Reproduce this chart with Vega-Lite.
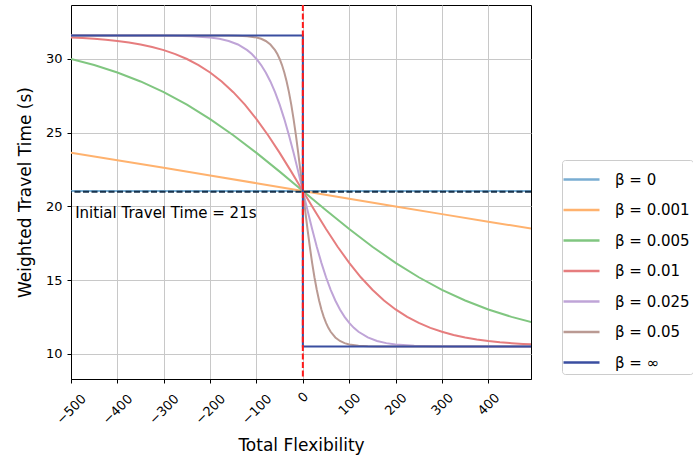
{
  "$schema": "https://vega.github.io/schema/vega-lite/v6.json",
  "width": 460,
  "height": 374,
  "autosize": {"type": "none"},
  "padding": {"left": 71, "top": 5, "right": 162, "bottom": 80},
  "background": "white",
  "config": {
    "font": "DejaVu Sans",
    "view": {"stroke": "#000000", "strokeWidth": 1},
    "axis": {
      "domainColor": "#000000",
      "tickColor": "#000000",
      "tickSize": 4,
      "labelColor": "#000000",
      "titleColor": "#000000",
      "labelFont": "DejaVu Sans",
      "titleFont": "DejaVu Sans",
      "labelFontSize": 13,
      "titleFontSize": 17,
      "titleFontWeight": "normal",
      "gridColor": "#c8c8c8",
      "gridWidth": 1
    }
  },
  "datasets": {
    "curves": [
      {"b": "β = 0", "x": -500, "y": 21.05},
      {"b": "β = 0", "x": 495, "y": 21.05},

      {"b": "β = 0.001", "x": -500, "y": 23.635},
      {"b": "β = 0.001", "x": -400, "y": 23.132},
      {"b": "β = 0.001", "x": -300, "y": 22.62},
      {"b": "β = 0.001", "x": -200, "y": 22.101},
      {"b": "β = 0.001", "x": -100, "y": 21.577},
      {"b": "β = 0.001", "x": 0, "y": 21.05},
      {"b": "β = 0.001", "x": 100, "y": 20.523},
      {"b": "β = 0.001", "x": 200, "y": 19.999},
      {"b": "β = 0.001", "x": 300, "y": 19.48},
      {"b": "β = 0.001", "x": 400, "y": 18.967},
      {"b": "β = 0.001", "x": 495, "y": 18.491},

      {"b": "β = 0.005", "x": -500, "y": 29.999},
      {"b": "β = 0.005", "x": -450, "y": 29.588},
      {"b": "β = 0.005", "x": -400, "y": 29.085},
      {"b": "β = 0.005", "x": -350, "y": 28.476},
      {"b": "β = 0.005", "x": -300, "y": 27.751},
      {"b": "β = 0.005", "x": -250, "y": 26.901},
      {"b": "β = 0.005", "x": -200, "y": 25.925},
      {"b": "β = 0.005", "x": -150, "y": 24.831},
      {"b": "β = 0.005", "x": -100, "y": 23.634},
      {"b": "β = 0.005", "x": -50, "y": 22.362},
      {"b": "β = 0.005", "x": 0, "y": 21.05},
      {"b": "β = 0.005", "x": 50, "y": 19.738},
      {"b": "β = 0.005", "x": 100, "y": 18.466},
      {"b": "β = 0.005", "x": 150, "y": 17.269},
      {"b": "β = 0.005", "x": 200, "y": 16.175},
      {"b": "β = 0.005", "x": 250, "y": 15.199},
      {"b": "β = 0.005", "x": 300, "y": 14.349},
      {"b": "β = 0.005", "x": 350, "y": 13.624},
      {"b": "β = 0.005", "x": 400, "y": 13.015},
      {"b": "β = 0.005", "x": 450, "y": 12.512},
      {"b": "β = 0.005", "x": 495, "y": 12.138},

      {"b": "β = 0.01", "x": -500, "y": 31.459},
      {"b": "β = 0.01", "x": -475, "y": 31.419},
      {"b": "β = 0.01", "x": -450, "y": 31.368},
      {"b": "β = 0.01", "x": -425, "y": 31.303},
      {"b": "β = 0.01", "x": -400, "y": 31.22},
      {"b": "β = 0.01", "x": -375, "y": 31.115},
      {"b": "β = 0.01", "x": -350, "y": 30.982},
      {"b": "β = 0.01", "x": -325, "y": 30.812},
      {"b": "β = 0.01", "x": -300, "y": 30.599},
      {"b": "β = 0.01", "x": -275, "y": 30.332},
      {"b": "β = 0.01", "x": -250, "y": 29.999},
      {"b": "β = 0.01", "x": -225, "y": 29.588},
      {"b": "β = 0.01", "x": -200, "y": 29.085},
      {"b": "β = 0.01", "x": -175, "y": 28.476},
      {"b": "β = 0.01", "x": -150, "y": 27.751},
      {"b": "β = 0.01", "x": -125, "y": 26.901},
      {"b": "β = 0.01", "x": -100, "y": 25.925},
      {"b": "β = 0.01", "x": -75, "y": 24.831},
      {"b": "β = 0.01", "x": -50, "y": 23.634},
      {"b": "β = 0.01", "x": -25, "y": 22.362},
      {"b": "β = 0.01", "x": 0, "y": 21.05},
      {"b": "β = 0.01", "x": 25, "y": 19.738},
      {"b": "β = 0.01", "x": 50, "y": 18.466},
      {"b": "β = 0.01", "x": 75, "y": 17.269},
      {"b": "β = 0.01", "x": 100, "y": 16.175},
      {"b": "β = 0.01", "x": 125, "y": 15.199},
      {"b": "β = 0.01", "x": 150, "y": 14.349},
      {"b": "β = 0.01", "x": 175, "y": 13.624},
      {"b": "β = 0.01", "x": 200, "y": 13.015},
      {"b": "β = 0.01", "x": 225, "y": 12.512},
      {"b": "β = 0.01", "x": 250, "y": 12.101},
      {"b": "β = 0.01", "x": 275, "y": 11.768},
      {"b": "β = 0.01", "x": 300, "y": 11.501},
      {"b": "β = 0.01", "x": 325, "y": 11.288},
      {"b": "β = 0.01", "x": 350, "y": 11.118},
      {"b": "β = 0.01", "x": 375, "y": 10.985},
      {"b": "β = 0.01", "x": 400, "y": 10.88},
      {"b": "β = 0.01", "x": 425, "y": 10.797},
      {"b": "β = 0.01", "x": 450, "y": 10.732},
      {"b": "β = 0.01", "x": 475, "y": 10.681},
      {"b": "β = 0.01", "x": 495, "y": 10.648},

      {"b": "β = 0.025", "x": -500, "y": 31.6},
      {"b": "β = 0.025", "x": -400, "y": 31.599},
      {"b": "β = 0.025", "x": -320, "y": 31.593},
      {"b": "β = 0.025", "x": -280, "y": 31.581},
      {"b": "β = 0.025", "x": -240, "y": 31.548},
      {"b": "β = 0.025", "x": -200, "y": 31.459},
      {"b": "β = 0.025", "x": -180, "y": 31.368},
      {"b": "β = 0.025", "x": -160, "y": 31.22},
      {"b": "β = 0.025", "x": -140, "y": 30.982},
      {"b": "β = 0.025", "x": -120, "y": 30.599},
      {"b": "β = 0.025", "x": -110, "y": 30.332},
      {"b": "β = 0.025", "x": -100, "y": 29.999},
      {"b": "β = 0.025", "x": -90, "y": 29.588},
      {"b": "β = 0.025", "x": -80, "y": 29.085},
      {"b": "β = 0.025", "x": -70, "y": 28.476},
      {"b": "β = 0.025", "x": -60, "y": 27.751},
      {"b": "β = 0.025", "x": -50, "y": 26.901},
      {"b": "β = 0.025", "x": -40, "y": 25.925},
      {"b": "β = 0.025", "x": -30, "y": 24.831},
      {"b": "β = 0.025", "x": -20, "y": 23.634},
      {"b": "β = 0.025", "x": -10, "y": 22.362},
      {"b": "β = 0.025", "x": 0, "y": 21.05},
      {"b": "β = 0.025", "x": 10, "y": 19.738},
      {"b": "β = 0.025", "x": 20, "y": 18.466},
      {"b": "β = 0.025", "x": 30, "y": 17.269},
      {"b": "β = 0.025", "x": 40, "y": 16.175},
      {"b": "β = 0.025", "x": 50, "y": 15.199},
      {"b": "β = 0.025", "x": 60, "y": 14.349},
      {"b": "β = 0.025", "x": 70, "y": 13.624},
      {"b": "β = 0.025", "x": 80, "y": 13.015},
      {"b": "β = 0.025", "x": 90, "y": 12.512},
      {"b": "β = 0.025", "x": 100, "y": 12.101},
      {"b": "β = 0.025", "x": 110, "y": 11.768},
      {"b": "β = 0.025", "x": 120, "y": 11.501},
      {"b": "β = 0.025", "x": 140, "y": 11.118},
      {"b": "β = 0.025", "x": 160, "y": 10.88},
      {"b": "β = 0.025", "x": 180, "y": 10.732},
      {"b": "β = 0.025", "x": 200, "y": 10.641},
      {"b": "β = 0.025", "x": 240, "y": 10.552},
      {"b": "β = 0.025", "x": 280, "y": 10.519},
      {"b": "β = 0.025", "x": 320, "y": 10.507},
      {"b": "β = 0.025", "x": 400, "y": 10.501},
      {"b": "β = 0.025", "x": 495, "y": 10.5},

      {"b": "β = 0.05", "x": -500, "y": 31.6},
      {"b": "β = 0.05", "x": -200, "y": 31.599},
      {"b": "β = 0.05", "x": -160, "y": 31.593},
      {"b": "β = 0.05", "x": -140, "y": 31.581},
      {"b": "β = 0.05", "x": -120, "y": 31.548},
      {"b": "β = 0.05", "x": -100, "y": 31.459},
      {"b": "β = 0.05", "x": -90, "y": 31.368},
      {"b": "β = 0.05", "x": -80, "y": 31.22},
      {"b": "β = 0.05", "x": -70, "y": 30.982},
      {"b": "β = 0.05", "x": -60, "y": 30.599},
      {"b": "β = 0.05", "x": -55, "y": 30.332},
      {"b": "β = 0.05", "x": -50, "y": 29.999},
      {"b": "β = 0.05", "x": -45, "y": 29.588},
      {"b": "β = 0.05", "x": -40, "y": 29.085},
      {"b": "β = 0.05", "x": -35, "y": 28.476},
      {"b": "β = 0.05", "x": -30, "y": 27.751},
      {"b": "β = 0.05", "x": -25, "y": 26.901},
      {"b": "β = 0.05", "x": -20, "y": 25.925},
      {"b": "β = 0.05", "x": -15, "y": 24.831},
      {"b": "β = 0.05", "x": -10, "y": 23.634},
      {"b": "β = 0.05", "x": -5, "y": 22.362},
      {"b": "β = 0.05", "x": 0, "y": 21.05},
      {"b": "β = 0.05", "x": 5, "y": 19.738},
      {"b": "β = 0.05", "x": 10, "y": 18.466},
      {"b": "β = 0.05", "x": 15, "y": 17.269},
      {"b": "β = 0.05", "x": 20, "y": 16.175},
      {"b": "β = 0.05", "x": 25, "y": 15.199},
      {"b": "β = 0.05", "x": 30, "y": 14.349},
      {"b": "β = 0.05", "x": 35, "y": 13.624},
      {"b": "β = 0.05", "x": 40, "y": 13.015},
      {"b": "β = 0.05", "x": 45, "y": 12.512},
      {"b": "β = 0.05", "x": 50, "y": 12.101},
      {"b": "β = 0.05", "x": 55, "y": 11.768},
      {"b": "β = 0.05", "x": 60, "y": 11.501},
      {"b": "β = 0.05", "x": 70, "y": 11.118},
      {"b": "β = 0.05", "x": 80, "y": 10.88},
      {"b": "β = 0.05", "x": 90, "y": 10.732},
      {"b": "β = 0.05", "x": 100, "y": 10.641},
      {"b": "β = 0.05", "x": 120, "y": 10.552},
      {"b": "β = 0.05", "x": 140, "y": 10.519},
      {"b": "β = 0.05", "x": 160, "y": 10.507},
      {"b": "β = 0.05", "x": 200, "y": 10.501},
      {"b": "β = 0.05", "x": 495, "y": 10.5},

      {"b": "β = ∞", "x": -500, "y": 31.6},
      {"b": "β = ∞", "x": 0, "y": 31.6},
      {"b": "β = ∞", "x": 0, "y": 10.5},
      {"b": "β = ∞", "x": 495, "y": 10.5}
    ],
    "initial": [{"y": 21}],
    "zero": [{"x": 0}],
    "note": [{"x": -491, "y": 19.56, "label": "Initial Travel Time = 21s"}]
  },
  "layer": [
    {
      "data": {"name": "curves"},
      "mark": {"type": "line", "strokeWidth": 2, "clip": true},
      "encoding": {
        "x": {
          "field": "x", "type": "quantitative",
          "scale": {"domain": [-500, 492], "nice": false, "zero": false},
          "axis": {
            "title": "Total Flexibility",
            "values": [-500, -400, -300, -200, -100, 0, 100, 200, 300, 400],
            "grid": true,
            "labelAngle": -45,
            "labelAlign": "center",
            "labelBaseline": "middle",
            "labelPadding": {"condition": [{"test": "datum.value == 0", "value": 14}, {"test": "datum.value > 0", "value": 21}], "value": 26},
            "titleY": 66,
            "titleBaseline": "middle"
          }
        },
        "y": {
          "field": "y", "type": "quantitative",
          "scale": {"domain": [8.3, 33.66], "nice": false, "zero": false},
          "axis": {
            "title": "Weighted Travel Time (s)",
            "values": [10, 15, 20, 25, 30],
            "grid": true,
            "labelPadding": 5,
            "titleX": -46,
            "titleBaseline": "middle"
          }
        },
        "color": {
          "field": "b", "type": "nominal",
          "scale": {
            "domain": ["β = 0", "β = 0.001", "β = 0.005", "β = 0.01", "β = 0.025", "β = 0.05", "β = ∞"],
            "range": ["#79add2", "#ffb26e", "#80c680", "#e67d7e", "#bfa4d7", "#ba9a93", "#3a4ea0"]
          },
          "legend": {
            "title": null,
            "orient": "none",
            "legendX": 491,
            "legendY": 155,
            "fillColor": "white",
            "strokeColor": "#cccccc",
            "cornerRadius": 3,
            "padding": 3,
            "rowPadding": 5.5,
            "labelFont": "DejaVu Sans",
            "labelFontSize": 15,
            "labelColor": "#000000",
            "labelOffset": 17,
            "labelLimit": 200,
            "symbolType": "M-1.2,0H1.2",
            "symbolSize": 900,
            "symbolStrokeWidth": 2.5
          }
        },
        "order": {"value": null}
      }
    },
    {
      "data": {"name": "initial"},
      "mark": {"type": "rule", "strokeDash": [6, 2.5], "strokeWidth": 2, "color": "#17334d"},
      "encoding": {"y": {"field": "y", "type": "quantitative"}}
    },
    {
      "data": {"name": "zero"},
      "mark": {"type": "rule", "strokeDash": [6, 2.5], "strokeWidth": 2, "color": "#ff1a1a"},
      "encoding": {"x": {"field": "x", "type": "quantitative"}}
    },
    {
      "data": {"name": "note"},
      "mark": {"type": "text", "align": "left", "baseline": "middle", "fontSize": 15, "font": "DejaVu Sans", "color": "#000000"},
      "encoding": {
        "x": {"field": "x", "type": "quantitative"},
        "y": {"field": "y", "type": "quantitative"},
        "text": {"field": "label"}
      }
    }
  ]
}
